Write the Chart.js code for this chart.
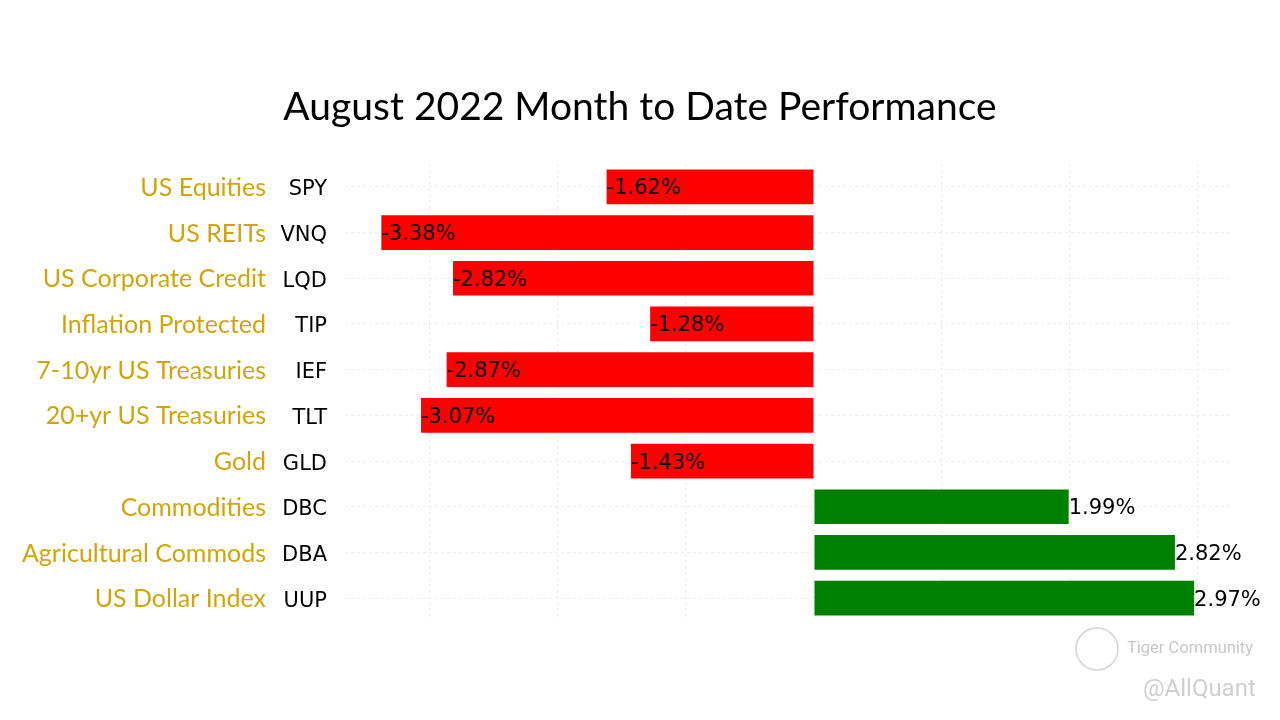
<!DOCTYPE html>
<html>
<head>
<meta charset="utf-8">
<title>August 2022 Month to Date Performance</title>
<script src="https://cdn.jsdelivr.net/npm/chart.js@4.4.0/dist/chart.umd.min.js"></script>
<style>
  html,body{margin:0;padding:0;background:#fff;}
  #wrap{position:relative;width:1280px;height:720px;}
</style>
</head>
<body>
<div id="wrap"><canvas id="perfChart" width="1280" height="720"></canvas></div>
<script>
// datos
const TICKERS = ['SPY','VNQ','LQD','TIP','IEF','TLT','GLD','DBC','DBA','UUP'];
const NAMES = ['US Equities','US REITs','US Corporate Credit','Inflation Protected','7-10yr US Treasuries',
  '20+yr US Treasuries','Gold','Commodities','Agricultural Commods','US Dollar Index'];
const RETURNS = [-1.62,-3.38,-2.82,-1.28,-2.87,-3.07,-1.43,1.99,2.82,2.97];
const X_GRID = [-3,-2,-1,0,1,2,3];
const TITLE = 'August 2022 Month to Date Performance';

const GOLD = '#D0A50A';
const GRID = '#ebebeb';

// titulo centrado en la pagina
const titlePlugin = {
  id:'pageTitle',
  afterDraw(chart){
    const ctx = chart.ctx;
    ctx.save();
    ctx.font = '39px Lato';
    ctx.fillStyle = '#000';
    ctx.textAlign = 'center';
    ctx.textBaseline = 'middle';
    ctx.fillText(TITLE, 640, 107);
    ctx.restore();
  }
};

// nombres de activos (dorado) a la izquierda de los tickers
const namesPlugin = {
  id:'names',
  afterDraw(chart){
    const ctx = chart.ctx, y = chart.scales.y;
    ctx.save();
    ctx.font = '25px Lato';
    ctx.fillStyle = GOLD;
    ctx.textAlign = 'right';
    ctx.textBaseline = 'middle';
    NAMES.forEach((n,i)=>ctx.fillText(n, 266, y.getPixelForValue(i)+1));
    ctx.restore();
  }
};

// etiquetas de valor en las barras
const valuePlugin = {
  id:'values',
  afterDatasetsDraw(chart){
    const ctx = chart.ctx;
    const meta = chart.getDatasetMeta(0);
    ctx.save();
    ctx.font = '21px "DejaVu Sans"';
    ctx.fillStyle = '#000';
    ctx.textAlign = 'left';
    ctx.textBaseline = 'middle';
    meta.data.forEach((bar,i)=>{
      ctx.fillText(RETURNS[i].toFixed(2)+'%', bar.x, bar.y+2);
    });
    ctx.restore();
  }
};

// marca de agua
const watermarkPlugin = {
  id:'watermark',
  afterDraw(chart){
    const ctx = chart.ctx;
    ctx.save();
    ctx.strokeStyle = '#d4d4d4';
    ctx.lineWidth = 1.5;
    ctx.beginPath(); ctx.arc(1097,649,21,0,Math.PI*2); ctx.stroke();
    ctx.fillStyle = '#c8c8c8';
    ctx.textBaseline = 'middle';
    ctx.textAlign = 'left';
    ctx.font = '16.5px Roboto';
    ctx.fillText('Tiger Community', 1127, 649);
    ctx.fillStyle = '#cfcfcf';
    ctx.font = '24px Roboto';
    ctx.fillText('@AllQuant', 1143, 690);
    ctx.restore();
  }
};

new Chart(document.getElementById('perfChart').getContext('2d'), {
  type:'bar',
  data:{
    labels: TICKERS,
    datasets:[{
      data: RETURNS,
      backgroundColor: RETURNS.map(v => v < 0 ? '#FF0000' : '#008000'),
      borderWidth:0,
      barPercentage:0.76,
      categoryPercentage:1
    }]
  },
  options:{
    indexAxis:'y',
    responsive:false,
    animation:false,
    layout:{padding:{left:0,right:48,top:164,bottom:99}},
    plugins:{
      legend:{display:false},
      tooltip:{enabled:false},
      title:{display:false}
    },
    scales:{
      x:{
        min:-3.664, max:3.266,
        afterBuildTicks: s => { s.ticks = X_GRID.map(v=>({value:v})); },
        ticks:{display:false},
        border:{display:false, dash:[3,3]},
        grid:{color:GRID, lineWidth:1, drawTicks:false},
        afterFit: s => { s.height = 0; }
      },
      y:{
        afterFit: s => { s.width = 345; },
        border:{display:false, dash:[3,3]},
        ticks:{color:'#000', padding:18, labelOffset:3, font:{family:'DejaVu Sans',size:21}},
        grid:{offset:false, color:GRID, drawTicks:false}
      }
    }
  },
  plugins:[titlePlugin, namesPlugin, valuePlugin, watermarkPlugin]
});
</script>
</body>
</html>
